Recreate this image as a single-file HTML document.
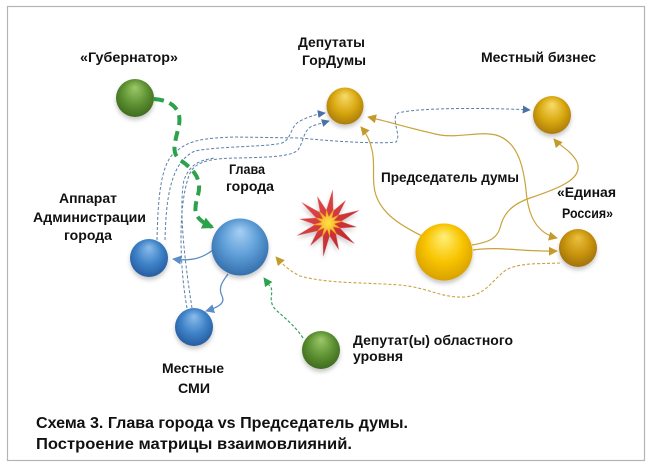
<!DOCTYPE html>
<html><head><meta charset="utf-8">
<style>
html,body{margin:0;padding:0;background:#fff;width:651px;height:465px;overflow:hidden}
svg{display:block}
text{font-family:"Liberation Sans","DejaVu Sans",sans-serif;font-weight:bold;fill:#111}
</style></head>
<body>
<svg width="651" height="465" viewBox="0 0 651 465" xmlns="http://www.w3.org/2000/svg">
<defs>
  <radialGradient id="gBlue" cx="50%" cy="45%" r="60%" fx="50%" fy="22%">
    <stop offset="0" stop-color="#a6d0f4"/><stop offset="0.55" stop-color="#5b9bd5"/><stop offset="1" stop-color="#2f68a6"/>
  </radialGradient>
  <radialGradient id="gBlueD" cx="50%" cy="45%" r="60%" fx="50%" fy="22%">
    <stop offset="0" stop-color="#8cbdea"/><stop offset="0.55" stop-color="#3f82c8"/><stop offset="1" stop-color="#22579a"/>
  </radialGradient>
  <radialGradient id="gGreen" cx="50%" cy="45%" r="60%" fx="50%" fy="22%">
    <stop offset="0" stop-color="#9cc86a"/><stop offset="0.55" stop-color="#5e9232"/><stop offset="1" stop-color="#3a661c"/>
  </radialGradient>
  <radialGradient id="gGold" cx="50%" cy="45%" r="60%" fx="50%" fy="22%">
    <stop offset="0" stop-color="#f8dc6a"/><stop offset="0.55" stop-color="#d9a812"/><stop offset="1" stop-color="#a47606"/>
  </radialGradient>
  <radialGradient id="gYel" cx="50%" cy="45%" r="60%" fx="50%" fy="22%">
    <stop offset="0" stop-color="#fff07a"/><stop offset="0.55" stop-color="#f8c400"/><stop offset="1" stop-color="#d49c00"/>
  </radialGradient>
  <radialGradient id="gER" cx="50%" cy="45%" r="60%" fx="50%" fy="22%">
    <stop offset="0" stop-color="#ecc040"/><stop offset="0.55" stop-color="#c9950e"/><stop offset="1" stop-color="#9c6c06"/>
  </radialGradient>
  <linearGradient id="gRed" x1="0" y1="0" x2="1" y2="1">
    <stop offset="0" stop-color="#e85050"/><stop offset="1" stop-color="#b82028"/>
  </linearGradient>
  <radialGradient id="gCore" cx="50%" cy="50%" r="50%">
    <stop offset="0" stop-color="#ffe24a"/><stop offset="1" stop-color="#f29a10"/>
  </radialGradient>
  <filter id="sh" x="-40%" y="-40%" width="180%" height="190%">
    <feDropShadow dx="0" dy="3" stdDeviation="2" flood-color="#000" flood-opacity="0.22"/>
  </filter>
  <marker id="aBlue" viewBox="0 0 10 10" refX="9" refY="5" markerWidth="8" markerHeight="8" markerUnits="userSpaceOnUse" orient="auto">
    <path d="M0,0 L10,5 L0,10 z" fill="#4a72a6"/>
  </marker>
  <marker id="aBlue2" viewBox="0 0 10 10" refX="9" refY="5" markerWidth="9" markerHeight="9" markerUnits="userSpaceOnUse" orient="auto">
    <path d="M0,0 L10,5 L0,10 z" fill="#5b8ec8"/>
  </marker>
  <marker id="aGold" viewBox="0 0 10 10" refX="9" refY="5" markerWidth="9" markerHeight="9" markerUnits="userSpaceOnUse" orient="auto">
    <path d="M0,0 L10,5 L0,10 z" fill="#c49a2a"/>
  </marker>
  <marker id="aGoldS" viewBox="0 0 10 10" refX="1" refY="5" markerWidth="9" markerHeight="9" markerUnits="userSpaceOnUse" orient="auto">
    <path d="M10,0 L0,5 L10,10 z" fill="#c49a2a"/>
  </marker>
  <marker id="aGreen" viewBox="0 0 10 10" refX="9" refY="5" markerWidth="9" markerHeight="9" markerUnits="userSpaceOnUse" orient="auto">
    <path d="M0,0 L10,5 L0,10 z" fill="#2ca24c"/>
  </marker>
  <marker id="aGreenB" viewBox="0 0 10 10" refX="8" refY="5" markerWidth="12" markerHeight="12" markerUnits="userSpaceOnUse" orient="auto">
    <path d="M0,0 L10,5 L0,10 z" fill="#2ca24c"/>
  </marker>
</defs>

<!-- frame -->
<rect x="7.5" y="6.5" width="637" height="454" fill="#fff" stroke="#b4b4b4" stroke-width="1.2"/>

<!-- blue dashed connectors -->
<g fill="none" stroke="#5a7fa8" stroke-width="1" stroke-dasharray="3 2">
  <path d="M157,240 C158,200 160,160 178,150 C190,140 205,138 235,137 L300,138 C340,142 380,144 396,142 C402,136 390,118 398,113 C420,107 500,108 530,110" marker-end="url(#aBlue)"/>
  <path d="M165,240 C166,200 170,162 195,151 C220,146 268,147 282,143 C292,139 290,126 300,121 C310,116 318,114 325,113" marker-end="url(#aBlue)"/>
  <path d="M187,308 C180,270 177,205 190,173 C196,161 212,158 240,158 C270,157 290,157 298,150 C304,141 303,131 312,126 L329,121" marker-end="url(#aBlue)"/>
  <path d="M192,308 C186,270 178,210 184,180 C190,164 200,160 215,158"/>
</g>

<!-- gold solid connectors -->
<g fill="none" stroke="#c9a33a" stroke-width="1.2">
  <path d="M422,236 C400,225 385,215 378,200 C370,185 376,165 372,150 C370,140 366,133 361,127" marker-end="url(#aGold)"/>
  <path d="M368,117 C390,122 412,129 440,135 C460,138 480,131 496,135 C516,141 523,162 526,190 C528,215 536,233 557,238" marker-start="url(#aGoldS)" marker-end="url(#aGold)"/>
  <path d="M472,245 C490,242 497,238 500,228 C503,215 510,205 530,198 C560,188 586,178 576,160 C570,150 560,146 554,139" marker-end="url(#aGold)"/>
  <path d="M473,250 C500,246 522,252 557,251" marker-end="url(#aGold)"/>
</g>
<!-- gold dashed -->
<path d="M560,263 C545,264 520,262 506,270 C492,280 486,295 465,297 C440,298 430,288 400,285 C360,282 330,284 300,276 C290,271 283,265 276,257" fill="none" stroke="#c9a33a" stroke-width="1.1" stroke-dasharray="3 2" marker-end="url(#aGold)"/>

<!-- blue solid from Глава -->
<g fill="none" stroke="#5b8ec8" stroke-width="1.3">
  <path d="M213,250 C205,256 195,262 173,259" marker-end="url(#aBlue2)"/>
  <path d="M228,274 C222,282 218,288 222,296 C226,304 216,308 206,311" marker-end="url(#aBlue2)"/>
</g>

<!-- green thin dashed -->
<path d="M303,338 C295,326 285,318 276,310 C266,300 276,291 269,285 L264,278" fill="none" stroke="#3aa05a" stroke-width="1.2" stroke-dasharray="3 2" marker-end="url(#aGreen)"/>

<!-- green thick dashed -->
<path d="M154,99 C170,100 182,108 179,125 C176,140 170,152 180,160 C195,170 202,180 198,195 C194,210 192,218 212,227" fill="none" stroke="#2ca24c" stroke-width="4" stroke-dasharray="10 6" marker-end="url(#aGreenB)"/>

<!-- spheres -->
<g filter="url(#sh)">
  <circle cx="135" cy="98" r="19" fill="url(#gGreen)"/>
  <circle cx="345" cy="106" r="18.5" fill="url(#gGold)"/>
  <circle cx="552" cy="115" r="19" fill="url(#gGold)"/>
  <circle cx="240" cy="247" r="28.5" fill="url(#gBlue)"/>
  <circle cx="149" cy="258" r="19" fill="url(#gBlueD)"/>
  <circle cx="194" cy="327" r="19" fill="url(#gBlueD)"/>
  <circle cx="444" cy="252" r="28.5" fill="url(#gYel)"/>
  <circle cx="578" cy="248" r="19" fill="url(#gER)"/>
  <circle cx="321" cy="350" r="19" fill="url(#gGreen)"/>
</g>

<!-- explosion -->
<g transform="rotate(8 328 223)" filter="url(#sh)">
  <polygon fill="url(#gRed)" points="328,189 331.4,210.4 342.5,197.9 337.2,213.8 357.4,206 340.6,219.6 357,223 340.6,226.4 357.4,240 337.2,232.2 342.5,248.1 331.4,235.6 328,257 324.6,235.6 313.5,248.1 318.8,232.2 298.6,240 315.4,226.4 299,223 315.4,219.6 298.6,206 318.8,213.8 313.5,197.9 324.6,210.4"/>
  <polygon fill="url(#gCore)" transform="translate(328 223) rotate(15) scale(0.48) translate(-328 -223)" points="328,189 331.4,210.4 342.5,197.9 337.2,213.8 357.4,206 340.6,219.6 357,223 340.6,226.4 357.4,240 337.2,232.2 342.5,248.1 331.4,235.6 328,257 324.6,235.6 313.5,248.1 318.8,232.2 298.6,240 315.4,226.4 299,223 315.4,219.6 298.6,206 318.8,213.8 313.5,197.9 324.6,210.4"/>
</g>

<!-- labels -->
<g font-size="14">
  <text x="80" y="62" textLength="98" lengthAdjust="spacingAndGlyphs">«Губернатор»</text>
  <text x="298" y="47" textLength="67" lengthAdjust="spacingAndGlyphs">Депутаты</text>
  <text x="302" y="65" textLength="64" lengthAdjust="spacingAndGlyphs">ГорДумы</text>
  <text x="481" y="62" textLength="115" lengthAdjust="spacingAndGlyphs">Местный бизнес</text>
  <text x="229" y="174" textLength="36" lengthAdjust="spacingAndGlyphs">Глава</text>
  <text x="226" y="191" textLength="48" lengthAdjust="spacingAndGlyphs">города</text>
  <text x="59" y="203" textLength="58" lengthAdjust="spacingAndGlyphs">Аппарат</text>
  <text x="33" y="222" textLength="113" lengthAdjust="spacingAndGlyphs">Администрации</text>
  <text x="64" y="240" textLength="48" lengthAdjust="spacingAndGlyphs">города</text>
  <text x="381" y="182" textLength="138" lengthAdjust="spacingAndGlyphs">Председатель думы</text>
  <text x="557" y="197" textLength="59" lengthAdjust="spacingAndGlyphs">«Единая</text>
  <text x="562" y="218" textLength="51" lengthAdjust="spacingAndGlyphs">Россия»</text>
  <text x="162" y="373" textLength="62" lengthAdjust="spacingAndGlyphs">Местные</text>
  <text x="178" y="393" textLength="32" lengthAdjust="spacingAndGlyphs">СМИ</text>
  <text x="353" y="345" textLength="160" lengthAdjust="spacingAndGlyphs">Депутат(ы) областного</text>
  <text x="353" y="361" textLength="50" lengthAdjust="spacingAndGlyphs">уровня</text>
</g>
<g font-size="16">
  <text x="36" y="428" textLength="372" lengthAdjust="spacingAndGlyphs">Схема 3. Глава города vs Председатель думы.</text>
  <text x="36" y="449" textLength="316" lengthAdjust="spacingAndGlyphs">Построение матрицы взаимовлияний.</text>
</g>
</svg>
</body></html>
